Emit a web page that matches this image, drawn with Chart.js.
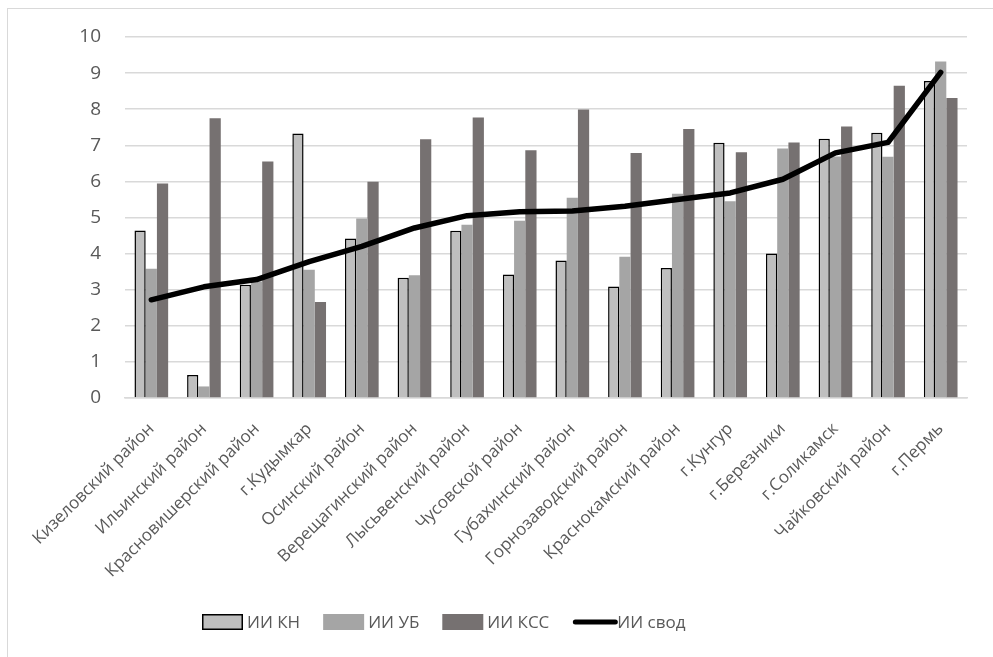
<!DOCTYPE html>
<html lang="ru">
<head>
<meta charset="utf-8">
<title>Интегральные индексы по территориям</title>
<script src="https://cdn.jsdelivr.net/npm/chart.js@4.4.1/dist/chart.umd.min.js"></script>
<style>
  html, body { margin: 0; padding: 0; background: #ffffff; overflow: hidden; }
  #frame {
    position: absolute; left: 7px; top: 8px; width: 1100px; height: 800px;
    border: 1px solid #d9d9d9; box-sizing: border-box;
  }
  #wrap { position: absolute; left: 0; top: 0; width: 993px; height: 657px; }
</style>
</head>
<body>
<div id="frame"></div>
<div id="wrap"><canvas id="chart" width="993" height="657"></canvas></div>
<script>
// Территории (категории оси X)
const categories = [
  'Кизеловский район', 'Ильинский район', 'Красновишерский район', 'г.Кудымкар',
  'Осинский район', 'Верещагинский район', 'Лысьвенский район', 'Чусовской район',
  'Губахинский район', 'Горнозаводский район', 'Краснокамский район', 'г.Кунгур',
  'г.Березники', 'г.Соликамск', 'Чайковский район', 'г.Пермь'
];

// Значения индексов
const iiKN  = [4.64, 0.64, 3.14, 7.33, 4.42, 3.33, 4.63, 3.42, 3.81, 3.09, 3.60, 7.07, 4.00, 7.18, 7.35, 8.78];
const iiUB  = [3.58, 0.32, 3.23, 3.55, 4.97, 3.40, 4.80, 4.91, 5.55, 3.91, 5.66, 5.45, 6.91, 6.69, 6.68, 9.32];
const iiKSS = [5.94, 7.75, 6.55, 2.66, 5.99, 7.17, 7.77, 6.86, 7.99, 6.79, 7.45, 6.81, 7.08, 7.52, 8.65, 8.31];
const iiSvod = [2.72, 3.08, 3.28, 3.78, 4.20, 4.71, 5.05, 5.16, 5.18, 5.31, 5.50, 5.68, 6.06, 6.79, 7.08, 9.02];

// Подписи рядов
const seriesNames = ['ИИ КН', 'ИИ УБ', 'ИИ КСС', 'ИИ свод'];

// Ось Y
const yMin = 0, yMax = 10, yStep = 1;

const FONT = '"Open Sans", "Noto Sans", sans-serif';
const TEXT = '#595959';

// Легенда внизу, рисуется вручную
const legendPlugin = {
  id: 'bottomLegend',
  afterDraw(chart) {
    const ctx = chart.ctx;
    const ds = chart.data.datasets;
    const cy = 622, boxW = 41, boxH = 16, gapText = 4, gapItem = 23;
    let x = 202;
    ctx.save();
    ctx.font = '17px ' + FONT;
    ctx.textBaseline = 'middle';
    ctx.textAlign = 'left';
    ds.forEach(d => {
      if (d.type === 'line') {
        ctx.strokeStyle = d.borderColor;
        ctx.lineWidth = 5;
        ctx.lineCap = 'round';
        ctx.beginPath();
        ctx.moveTo(x + 3, cy);
        ctx.lineTo(x + boxW + 2, cy);
        ctx.stroke();
      } else {
        ctx.fillStyle = d.backgroundColor;
        ctx.fillRect(x, cy - boxH / 2, boxW, boxH);
        if (d.borderWidth) {
          ctx.strokeStyle = d.borderColor;
          ctx.lineWidth = 1.5;
          ctx.strokeRect(x + 0.75, cy - boxH / 2 + 0.75, boxW - 1.5, boxH - 1.5);
        }
      }
      x += boxW + gapText;
      ctx.fillStyle = TEXT;
      ctx.fillText(d.label, x, cy + 1);
      x += ctx.measureText(d.label).width + gapItem;
    });
    ctx.restore();
  }
};

new Chart(document.getElementById('chart'), {
  data: {
    labels: categories,
    datasets: [
      { type: 'bar', label: seriesNames[0], data: iiKN, order: 1,
        backgroundColor: '#bfbfbf', borderColor: '#000000', borderWidth: 1.5, borderSkipped: 'bottom' },
      { type: 'bar', label: seriesNames[1], data: iiUB, order: 1,
        backgroundColor: '#a5a5a5', borderWidth: 0 },
      { type: 'bar', label: seriesNames[2], data: iiKSS, order: 1,
        backgroundColor: '#767171', borderWidth: 0 },
      { type: 'line', label: seriesNames[3], data: iiSvod, order: 0,
        borderColor: '#000000', borderWidth: 5.5, pointRadius: 0, tension: 0,
        borderJoinStyle: 'round', borderCapStyle: 'round', fill: false }
    ]
  },
  options: {
    responsive: false,
    animation: false,
    devicePixelRatio: 1,
    layout: { padding: { left: 0, right: 26, top: 37, bottom: 50 } },
    datasets: { bar: { categoryPercentage: 0.64, barPercentage: 1.0 } },
    plugins: { legend: { display: false }, tooltip: { enabled: false } },
    scales: {
      x: {
        grid: { display: false, drawTicks: false },
        border: { display: true, color: '#d9d9d9', width: 1.5 },
        ticks: {
          autoSkip: false, minRotation: 45, maxRotation: 45, padding: 21,
          color: TEXT, font: { family: FONT, size: 17 }
        },
        afterFit(axis) { axis.height = 657 - 398 - 50; }
      },
      y: {
        min: yMin, max: yMax,
        grid: { color: '#d9d9d9', lineWidth: 1.5, drawTicks: false },
        border: { display: false },
        ticks: {
          stepSize: yStep, padding: 24,
          color: TEXT, font: { family: FONT, size: 19 }
        },
        afterFit(axis) { axis.width = 125; }
      }
    }
  },
  plugins: [legendPlugin]
});
</script>
</body>
</html>
